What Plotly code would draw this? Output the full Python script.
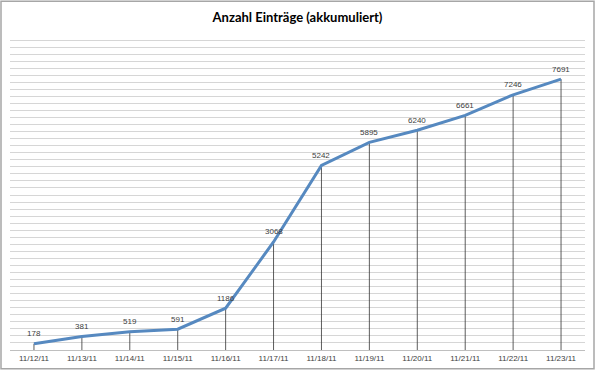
import plotly.graph_objects as go

dates = ["11/12/11", "11/13/11", "11/14/11", "11/15/11", "11/16/11", "11/17/11",
         "11/18/11", "11/19/11", "11/20/11", "11/21/11", "11/22/11", "11/23/11"]
values = [178, 381, 519, 591, 1186, 3068, 5242, 5895, 6240, 6661, 7246, 7691]
title = "Anzahl Einträge (akkumuliert)"

W, H = 595, 373
L, R, T, B = 10, 10, 33, 20

fig = go.Figure()
fig.add_trace(go.Scatter(
    x=dates, y=values, mode="lines",
    line=dict(color="#5689c0", width=3),
    error_y=dict(type="data", symmetric=False, array=[0] * len(values),
                 arrayminus=values, color="#333333", thickness=0.8, width=0),
    cliponaxis=False, showlegend=False, hoverinfo="skip",
))

annotations = [dict(x=d, y=v, text=str(v), showarrow=False, yshift=10,
                    font=dict(family="Liberation Sans, Arial", size=8, color="#404040"))
               for d, v in zip(dates, values)]

fig.update_layout(
    width=W, height=H,
    margin=dict(l=L, r=R, t=T, b=B),
    paper_bgcolor="white", plot_bgcolor="white",
    title=dict(text="<b>" + title + "</b>", x=0.5, xanchor="center", y=1 - 17 / H, yanchor="middle",
               font=dict(family="Lato, Liberation Sans", size=13, color="#000000")),
    xaxis=dict(type="category", range=[-0.5, len(dates) - 0.5], showgrid=False,
               showline=True, linecolor="#bfbfbf", linewidth=1,
               ticks="", tickfont=dict(family="Liberation Sans, Arial", size=8, color="#404040"),
               fixedrange=True),
    yaxis=dict(range=[0, 9000], dtick=200, showgrid=True, gridcolor="#d6d6d6", gridwidth=1,
               showticklabels=False, zeroline=False, fixedrange=True),
    annotations=annotations,
    shapes=[dict(type="rect", xref="paper", yref="paper",
                 x0=(1 - L) / (W - L - R), x1=(W - 1 - L) / (W - L - R),
                 y0=(H - B - (H - 1)) / (H - T - B), y1=(H - B - 1) / (H - T - B),
                 line=dict(color="#a6a6a6", width=1.5), layer="below")],
)

fig.write_html("out.html", config={"displayModeBar": False},
               post_script="document.body.style.margin='0';")
